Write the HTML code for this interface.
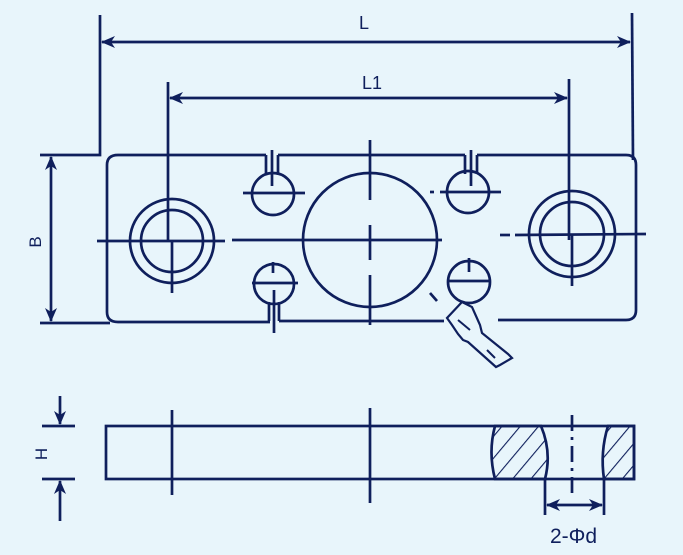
<!DOCTYPE html>
<html><head><style>
html,body{margin:0;padding:0;background:#e8f5fb;}
svg{display:block;}
text{font-family:"Liberation Sans",sans-serif;fill:#0f1f5c;}
</style></head><body>
<svg width="683" height="555" viewBox="0 0 683 555" xmlns="http://www.w3.org/2000/svg">
<defs>
<marker id="a" viewBox="0 0 14 12" refX="13" refY="6" markerWidth="14" markerHeight="12" orient="auto-start-reverse" markerUnits="userSpaceOnUse">
<path d="M0,0 L14,6 L0,12 L4,6 Z" fill="#0f1f5c"/></marker>
<pattern id="h" width="14" height="14" patternUnits="userSpaceOnUse" patternTransform="rotate(40)">
<line x1="0" y1="0" x2="0" y2="14" stroke="#0f1f5c" stroke-width="2.2"/></pattern>
</defs>
<g stroke="#0f1f5c" stroke-width="2.7" fill="none">
<polyline points="100,15 100,155 40,155"/>
<line x1="632" y1="13" x2="633" y2="160"/>
<line x1="102" y1="42" x2="630" y2="42" marker-start="url(#a)" marker-end="url(#a)"/>
<line x1="168" y1="82" x2="168" y2="240"/>
<line x1="569" y1="79" x2="569" y2="240"/>
<line x1="170" y1="98" x2="567" y2="98" marker-start="url(#a)" marker-end="url(#a)"/>
<line x1="40" y1="323" x2="110" y2="323"/>
<line x1="51" y1="157" x2="51" y2="321" marker-start="url(#a)" marker-end="url(#a)"/>
<path d="M118,155 H266 M278,155 H465 M477,155 H626 Q636,155 636,165 V310 Q636,320 626,320 H498 M444,321 H279 M270,322 H118 Q107,322 107,312 V165 Q107,155 118,155"/>
<path d="M266,155 V175 M278,155 V175 M465,155 V174 M477,155 V174"/>
<line x1="272" y1="150" x2="272" y2="186"/>
<line x1="471" y1="150" x2="471" y2="186"/>
<path d="M269,302 V321 M279,302 V321"/>
<line x1="274" y1="290" x2="274" y2="333"/>
<circle cx="273" cy="194" r="21"/>
<line x1="243" y1="193" x2="305" y2="193"/>
<circle cx="468" cy="192" r="21"/>
<line x1="440" y1="192" x2="501" y2="192"/>
<line x1="430" y1="192" x2="434" y2="192"/>
<circle cx="274" cy="284" r="20"/>
<line x1="252" y1="283" x2="298" y2="283"/>
<line x1="273" y1="262" x2="273" y2="273"/>
<circle cx="469" cy="282" r="21"/>
<line x1="447" y1="281" x2="491" y2="281"/>
<line x1="469" y1="258" x2="469" y2="272"/>
<circle cx="370" cy="240" r="67"/>
<line x1="370" y1="140" x2="370" y2="200"/>
<line x1="370" y1="225" x2="370" y2="260"/>
<line x1="370" y1="275" x2="370" y2="325"/>
<line x1="97" y1="241" x2="225" y2="241"/>
<line x1="232" y1="240" x2="442" y2="240"/>
<line x1="500" y1="235" x2="510" y2="235"/>
<line x1="515" y1="235" x2="646" y2="234"/>
<circle cx="172" cy="241" r="42"/>
<circle cx="172" cy="241" r="31"/>
<line x1="172" y1="240" x2="172" y2="293"/>
<circle cx="572" cy="234" r="43"/>
<circle cx="572" cy="234" r="32"/>
<line x1="572" y1="234" x2="572" y2="286"/>
<line x1="430" y1="293" x2="437" y2="301"/>
<path d="M462,302 L447,318 L452,325 L458,334 L463,340 L468,342 L496,367 L500,365 L512,358 L508,354 L482,333 L480,325 L476,316 L472,307 Z" stroke-width="2.2"/>
<path d="M458,320 L470,330 M487,350 L495,358" stroke-width="2"/>
<rect x="106" y="426" width="528" height="53"/>
<line x1="172" y1="410" x2="172" y2="495"/>
<line x1="370" y1="408" x2="370" y2="503"/>
<line x1="572" y1="415" x2="572" y2="495" stroke-dasharray="16,6,3,6"/>
<line x1="42" y1="426" x2="75" y2="426"/>
<line x1="42" y1="479" x2="75" y2="479"/>
<line x1="60" y1="396" x2="60" y2="424" marker-end="url(#a)"/>
<line x1="60" y1="521" x2="60" y2="481" marker-end="url(#a)"/>
<path d="M495,426 Q488,452 495,479 H545 Q552,452 541,426 Z" fill="url(#h)"/>
<path d="M608,426 Q600,452 604,479 H634 V426 Z" fill="url(#h)"/>
<line x1="545" y1="479" x2="545" y2="515"/>
<line x1="604" y1="479" x2="604" y2="515"/>
<line x1="547" y1="505" x2="602" y2="505" marker-start="url(#a)" marker-end="url(#a)"/>
</g>
<text x="364" y="29" font-size="18" text-anchor="middle">L</text>
<text x="372" y="89" font-size="18" text-anchor="middle">L1</text>
<text x="0" y="0" font-size="17" text-anchor="middle" transform="translate(41,242) rotate(-90)">B</text>
<text x="0" y="0" font-size="17" text-anchor="middle" transform="translate(47,454) rotate(-90)">H</text>
<text x="550" y="543" font-size="21" font-family="Liberation Serif">2-Φd</text>
</svg>
</body></html>
